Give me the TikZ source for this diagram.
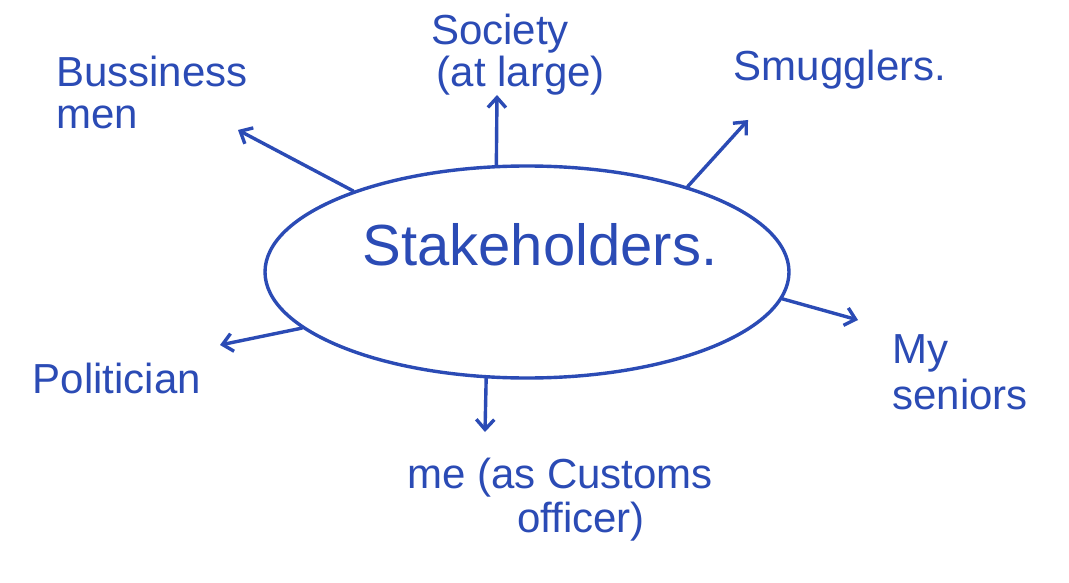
\documentclass[tikz,border=0pt]{standalone}
\usepackage{fontspec}
\setmainfont{Liberation Sans}
\usetikzlibrary{arrows.meta,shapes.geometric}
\definecolor{ink}{HTML}{2B4BB5}
\tikzset{
  inkline/.style={draw=ink, line width=3.4pt, line cap=round, line join=round},
  arr/.style={inkline, -{Straight Barb[length=10pt,width=18pt,line width=3.4pt]}},
  lbl/.style={text=ink, font=\fontsize{42}{46}\selectfont, inner sep=0pt},
  hub/.style={inkline, ellipse, minimum width=524pt, minimum height=212pt, inner sep=0pt}
}
\begin{document}
\begin{tikzpicture}[x=1pt,y=-1pt]
\useasboundingbox[fill=white] (0,0) rectangle (1069,583);
\node[hub] (st) at (527,272) {};
\node[lbl, font=\fontsize{58}{62}\selectfont] (stt) at (540,245) {Stakeholders.};
\node[lbl, align=left] (bus) at (152,92) {Bussiness\\[-4pt]men};
\node[lbl, align=center] (soc) at (500,55) {Society\\[-4pt]\quad(at large)};
\node[lbl] (smu) at (840,70) {Smugglers.};
\node[lbl] (pol) at (117,378) {Politician};
\node[lbl, align=left] (sen) at (960,372) {My\\seniors};
\node[lbl, align=center] (me) at (560,500) {me (as Customs\\[-2pt]\quad officer)};
\coordinate (bE) at (238,130);
\coordinate (sE) at (497,95);
\coordinate (mE) at (748,120);
\coordinate (pE) at (220,345);
\coordinate (nE) at (858,320);
\coordinate (oE) at (485,432);
\draw[arr] (st.155) -- (bE);
\draw[arr] (st.106) -- (sE);
\draw[arr] (st.28) -- (mE);
\draw[arr] (st.-166) -- (pE);
\draw[arr] (st.-6) -- (nE);
\draw[arr] (st.-111) -- (oE);
\end{tikzpicture}
\end{document}
